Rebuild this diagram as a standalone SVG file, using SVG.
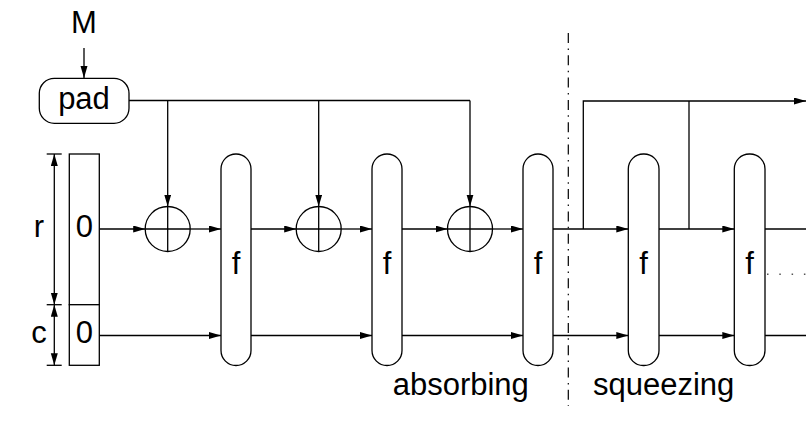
<svg xmlns="http://www.w3.org/2000/svg" width="806" height="431" viewBox="0 0 806 431">
<style>
.s{fill:none;stroke:#000;stroke-width:1.3}
.b{fill:#fff;stroke:#000;stroke-width:1.3}
.t{font-family:"Liberation Sans",Arial,sans-serif;font-size:31px;fill:#000}
.m{text-anchor:middle}
.a{marker-end:url(#ah)}
</style>
<defs>
<marker id="ah" markerUnits="userSpaceOnUse" markerWidth="13" markerHeight="8" refX="12" refY="3.5" orient="auto-start-reverse">
<path d="M0,0 L12,3.5 L0,7 z" fill="#000"/>
</marker>
</defs>
<rect width="806" height="431" fill="#fff"/>

<g id="connectors">
<!-- M to pad -->
<line class="s a" x1="84" y1="48" x2="84" y2="78"/>
<!-- pad feed -->
<polyline class="s" points="129,100.5 470,100.5"/>
<line class="s a" x1="167.7" y1="100.5" x2="167.7" y2="206.5"/>
<line class="s a" x1="318.7" y1="100.5" x2="318.7" y2="206.5"/>
<line class="s a" x1="470" y1="100.5" x2="470" y2="206.5"/>
<!-- r row -->
<line class="s a" x1="99.3" y1="229" x2="145.2" y2="229"/>
<line class="s a" x1="190.2" y1="229" x2="221" y2="229"/>
<line class="s a" x1="251" y1="229" x2="296.2" y2="229"/>
<line class="s a" x1="341.2" y1="229" x2="372" y2="229"/>
<line class="s a" x1="402" y1="229" x2="447.5" y2="229"/>
<line class="s a" x1="492.5" y1="229" x2="523" y2="229"/>
<line class="s a" x1="553" y1="229" x2="628.3" y2="229"/>
<line class="s a" x1="659" y1="229" x2="734.3" y2="229"/>
<line class="s" x1="765" y1="229" x2="806" y2="229"/>
<!-- c row -->
<line class="s a" x1="99.3" y1="335.5" x2="221" y2="335.5"/>
<line class="s a" x1="251" y1="335.5" x2="372" y2="335.5"/>
<line class="s a" x1="402" y1="335.5" x2="523" y2="335.5"/>
<line class="s a" x1="553" y1="335.5" x2="628.3" y2="335.5"/>
<line class="s a" x1="659" y1="335.5" x2="734.3" y2="335.5"/>
<line class="s" x1="765" y1="335.5" x2="806" y2="335.5"/>
<!-- squeeze output -->
<polyline class="s" points="583.3,229 583.3,101 806,101" marker-end="url(#ah)"/>
<line class="s" x1="689" y1="229" x2="689" y2="101"/>
<!-- dotted continuation -->
<line x1="767" y1="274.3" x2="806" y2="274.3" stroke="#555" stroke-width="1.5" stroke-dasharray="1.5 10.8"/>
<!-- phase separator -->
<line x1="568.3" y1="33" x2="568.3" y2="406" stroke="#000" stroke-width="1.2" stroke-dasharray="10 5.4 1.5 5.4"/>
<!-- dimension lines -->
<line class="s" x1="46.7" y1="154" x2="61.7" y2="154"/>
<line class="s" x1="46.7" y1="304.7" x2="61.7" y2="304.7"/>
<line class="s" x1="46.7" y1="365.3" x2="61.7" y2="365.3"/>
<line class="s" x1="54.3" y1="154" x2="54.3" y2="304.7" marker-start="url(#ah)" marker-end="url(#ah)"/>
<line class="s" x1="54.3" y1="304.7" x2="54.3" y2="365.3" marker-start="url(#ah)" marker-end="url(#ah)"/>
</g>

<g id="M"><text class="t m" x="84" y="33">M</text></g>

<g id="pad">
<rect class="b" x="39.3" y="78.3" width="89.7" height="45" rx="15" ry="15"/>
<text class="t m" x="84" y="108.5">pad</text>
</g>

<g id="state">
<rect class="b" x="69.3" y="154" width="30" height="150.7"/>
<rect class="b" x="69.3" y="304.7" width="30" height="60.6"/>
<text class="t m" x="84.3" y="237.3">0</text>
<text class="t m" x="84.3" y="342.7">0</text>
</g>

<g id="labels-rc">
<text class="t m" x="39" y="237.3">r</text>
<text class="t m" x="39" y="342.7">c</text>
</g>

<g id="xor1"><circle class="b" cx="167.7" cy="229" r="22.5"/><path class="s" d="M145.2,229 H190.2 M167.7,206.5 V251.5"/></g>
<g id="xor2"><circle class="b" cx="318.7" cy="229" r="22.5"/><path class="s" d="M296.2,229 H341.2 M318.7,206.5 V251.5"/></g>
<g id="xor3"><circle class="b" cx="470" cy="229" r="22.5"/><path class="s" d="M447.5,229 H492.5 M470,206.5 V251.5"/></g>

<g id="f1"><rect class="b" x="221" y="154" width="30" height="211.5" rx="15" ry="15"/><text class="t m" x="236" y="274">f</text></g>
<g id="f2"><rect class="b" x="372" y="154" width="30" height="211.5" rx="15" ry="15"/><text class="t m" x="387" y="274">f</text></g>
<g id="f3"><rect class="b" x="523" y="154" width="30" height="211.5" rx="15" ry="15"/><text class="t m" x="538" y="274">f</text></g>
<g id="f4"><rect class="b" x="628.3" y="154" width="30.7" height="211.5" rx="15" ry="15"/><text class="t m" x="643.6" y="274">f</text></g>
<g id="f5"><rect class="b" x="734.3" y="154" width="30.7" height="211.5" rx="15" ry="15"/><text class="t m" x="749.6" y="274">f</text></g>

<g id="phases">
<text class="t" x="392.7" y="395">absorbing</text>
<text class="t" x="593" y="395">squeezing</text>
</g>
</svg>
